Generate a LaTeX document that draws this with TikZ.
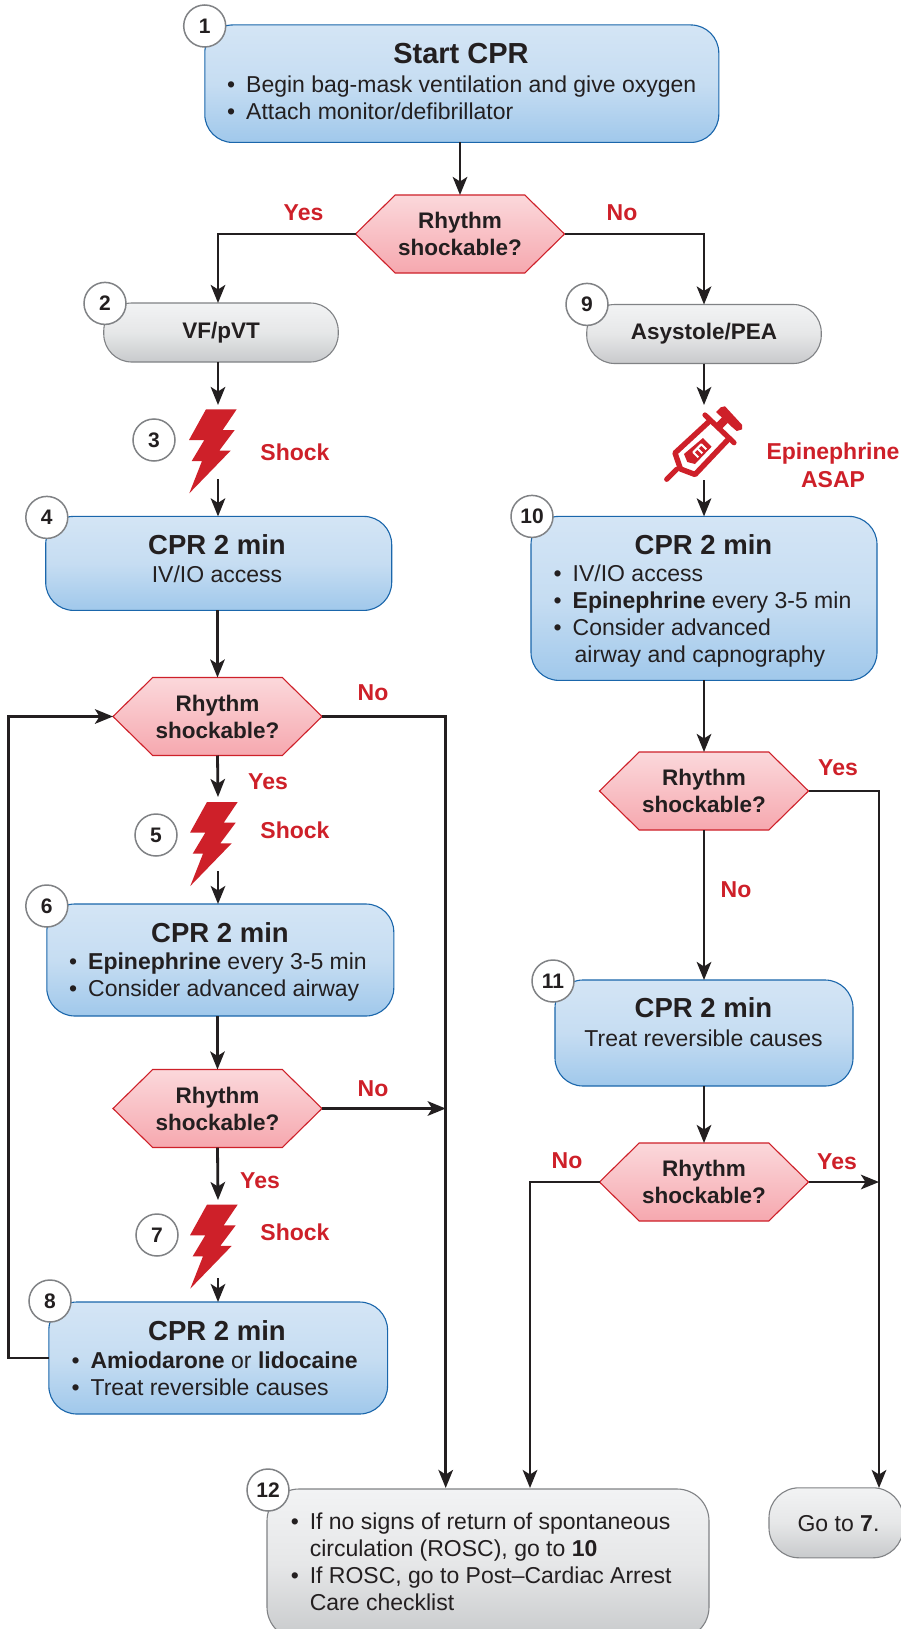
\documentclass[tikz,border=0pt]{standalone}
\usepackage{fontspec}
\setmainfont{Liberation Sans}
\usetikzlibrary{arrows.meta,shapes.symbols}
\definecolor{ink}{HTML}{231F20}
\definecolor{redc}{HTML}{CE2029}
\definecolor{bluel}{HTML}{1A66AB}
\definecolor{greyl}{HTML}{808285}
\tikzset{
  x=1pt,y=-1pt,
  box/.style={draw,line width=1.1pt,inner sep=0pt,outer sep=0pt,rounded corners=28pt},
  bluebox/.style={box,draw=bluel,top color=blueA,bottom color=blueC,middle color=blueB},
  greybox/.style={box,draw=greyl,top color=greyA,bottom color=greyC,middle color=greyB,text=ink,font=\fontsize{22.5}{27}\selectfont\bfseries},
  hexa/.style={signal,signal to=east and west,signal pointer angle=89,draw=redc,line width=1.1pt,
    top color=pinkA,bottom color=pinkC,inner sep=0pt,outer sep=0pt,minimum width=209pt,minimum height=78pt,
    align=center,text=ink,font=\fontsize{22.5}{27}\selectfont\bfseries},
  numc/.style={circle,draw=greyl,line width=1.5pt,fill=white,minimum size=42pt,inner sep=0pt,outer sep=0pt,text=ink,font=\fontsize{21}{24}\selectfont\bfseries},
  titl/.style={inner sep=0pt,text=ink,font=\fontsize{29}{32}\selectfont\bfseries},
  cprt/.style={inner sep=0pt,text=ink,font=\fontsize{27.5}{32}\selectfont\bfseries},
  body/.style={inner sep=0pt,align=left,text=ink,font=\fontsize{23}{27}\selectfont},
  lab/.style={inner sep=0pt,align=center,text=redc,font=\fontsize{23}{28}\selectfont\bfseries},
  conn/.style={draw=ink,line width=2.8pt,-{Stealth[length=18pt,width=14.5pt,inset=4.5pt]}},
  bolt/.style={fill=redc,draw=none},
}
\definecolor{blueA}{HTML}{D4E5F5}
\definecolor{blueB}{HTML}{C6DDF2}
\definecolor{blueC}{HTML}{A0C8EB}
\definecolor{greyA}{HTML}{F2F3F4}
\definecolor{greyB}{HTML}{E6E7E8}
\definecolor{greyC}{HTML}{C8CACC}
\definecolor{pinkA}{HTML}{FBD8DB}
\definecolor{pinkC}{HTML}{F6A8AF}
\newcommand{\bul}{\makebox[19pt][l]{•}}
\newcommand{\boltshape}[2]{\fill[bolt] (#1,#2) -- ++(30.7,0) -- ++(-14,20.7) -- ++(12,0) -- ++(-15.4,20.6) -- ++(11.4,0) -- ++(-41.4,42.7) -- ++(12.7,-32.3) -- ++(-10.3,0) -- ++(12.6,-21) -- ++(-15.3,0) -- cycle;}
\begin{document}
\begin{tikzpicture}
\useasboundingbox (0,0) rectangle (901,1629);
\fill[white] (0,0) rectangle (901,1629);
\begin{scope}
\clip (0,0) rectangle (901,1629);
% boxes
\node[bluebox,minimum width=514pt,minimum height=117.5pt] (b1) at (461.8,83.7) {};
\node[hexa] (h1) at (460,234) {\raisebox{-1pt}{Rhythm}\\\raisebox{-1pt}{shockable?}};
\node[greybox,minimum width=234.5pt,minimum height=59pt] (b2) at (221,332.5) {\raisebox{-2pt}{VF/pVT}\hspace{5pt}};
\node[greybox,minimum width=234.5pt,minimum height=59pt] (b9) at (704,334) {\raisebox{-2pt}{Asystole/PEA}\hspace{2pt}};
\node[bluebox,minimum width=346pt,minimum height=94pt] (b4) at (218.7,563.4) {};
\node[bluebox,minimum width=346pt,minimum height=164pt] (b10) at (704,598.4) {};
\node[hexa] (h2) at (217.5,716.5) {Rhythm\\shockable?};
\node[bluebox,minimum width=347pt,minimum height=112pt] (b6) at (220.3,960) {};
\node[hexa] (h3) at (217.5,1108.5) {Rhythm\\shockable?};
\node[bluebox,minimum width=338.7pt,minimum height=112pt] (b8) at (218.2,1358) {};
\node[hexa] (h4) at (704,791) {Rhythm\\shockable?};
\node[bluebox,minimum width=298pt,minimum height=106pt] (b11) at (704,1033) {};
\node[hexa] (h5) at (704,1182) {Rhythm\\shockable?};
\node[box,draw=greyl,top color=greyA,bottom color=greyC,middle color=greyB,rounded corners=32pt,minimum width=442pt,minimum height=150pt] (b12) at (488,1564) {};
\node[box,draw=greyl,top color=greyA,bottom color=greyC,middle color=greyB,rounded corners=30pt,minimum width=134pt,minimum height=70pt] (b13) at (836,1522.8) {};
% texts
\node[titl] (t1) at (461,54) {Start CPR};
\node[body,anchor=west] (x1) at (227,97.5) {\bul Begin bag-mask ventilation and give oxygen\\\bul Attach monitor/defibrillator};
\node[cprt] (t4) at (217,544.5) {CPR 2 min};
\node[body] (x4) at (217,574.5) {IV/IO access};
\node[cprt] (t10) at (703.5,544.5) {CPR 2 min};
\node[body,anchor=west] (x10) at (553.5,616) {\bul IV/IO access\\\bul\textbf{Epinephrine} every 3-5 min\\\bul Consider advanced\\\hspace{21pt}airway and capnography};
\node[cprt] (t6) at (220,932.5) {CPR 2 min};
\node[body,anchor=west] (x6) at (69,977.5) {\bul\textbf{Epinephrine} every 3-5 min\\\bul Consider advanced airway};
\node[cprt] (t8) at (217,1331) {CPR 2 min};
\node[body,anchor=west] (x8) at (71.4,1374) {\bul\textbf{Amiodarone} or \textbf{lidocaine}\\\bul Treat reversible causes};
\node[cprt] (t11) at (703.5,1008) {CPR 2 min};
\node[body] (x11) at (703.5,1038.5) {Treat reversible causes};
\node[body,anchor=west] (x12) at (290.6,1561.5) {\bul If no signs of return of spontaneous\\\hspace{19pt}circulation (ROSC), go to \textbf{10}\\\bul If ROSC, go to Post–Cardiac Arrest\\\hspace{19pt}Care checklist};
\node[body] (x13) at (838.5,1524) {Go to \textbf{7}.};
% bolts and syringe
\boltshape{206}{409.3}
\boltshape{207}{802}
\boltshape{207}{1204.6}
\coordinate (s3a) at (218,405);
\coordinate (s3b) at (218,479);
\coordinate (s5a) at (218,797);
\coordinate (s5b) at (218,871);
\coordinate (s7a) at (218,1200);
\coordinate (s7b) at (218,1278);
\coordinate (sya) at (704,405);
\coordinate (syb) at (704,480);
% syringe
\begin{scope}[line cap=round,line join=round]
\draw[redc,line width=5.2pt] (666.7,479.3) -- (676.7,469.3);
\draw[redc,line width=5.2pt] (705,415) -- (734,442.7);
\draw[redc,line width=5.4pt] (710,420.7) -- (675,453) -- (680.5,469) -- (695,474.5) -- (728.3,439.3);
\fill[redc] (716,412) -- (720.7,407.3) -- (725,406.3) -- (742.2,425) -- (742.2,429.3) -- (736.7,431) -- (732,427) -- cycle;
\draw[redc,line width=8pt,line cap=butt] (725,420) -- (717,428);
\fill[redc] (684,454) -- (703,438) -- (711.5,446.7) -- (695,464) -- (687.3,462) -- cycle;
\draw[white,line width=2pt,line cap=butt] (698.3,457.3) -- (693.3,452.3) -- (701.3,444.3) -- (706.3,449.3) (697.3,448.3) -- (702.3,453.3);
\end{scope}
% numbers
\node[numc] (n1) at (204.7,26) {1};
\node[numc] (n2) at (105,303.4) {2};
\node[numc] (n3) at (154,440) {3};
\node[numc] (n4) at (46.8,517.4) {4};
\node[numc] (n5) at (156,835) {5};
\node[numc] (n6) at (46.8,906) {6};
\node[numc] (n7) at (157,1235) {7};
\node[numc] (n8) at (50,1301) {8};
\node[numc] (n9) at (587,304.4) {9};
\node[numc] (n10) at (532,516.4) {10};
\node[numc] (n11) at (553,981) {11};
\node[numc] (n12) at (268,1490) {12};
% labels
\node[lab] (l1) at (303.5,213) {Yes};
\node[lab] (l2) at (622,213) {No};
\node[lab] (l3) at (295,452) {Shock};
\node[lab] (l4) at (833,465.5) {Epinephrine\\ASAP};
\node[lab] (l5) at (373,692.5) {No};
\node[lab] (l6) at (268,782) {Yes};
\node[lab] (l7) at (295,830) {Shock};
\node[lab] (l8) at (373,1089) {No};
\node[lab] (l9) at (260,1181) {Yes};
\node[lab] (l10) at (295,1232) {Shock};
\node[lab] (l11) at (838,768) {Yes};
\node[lab] (l12) at (736,890) {No};
\node[lab] (l13) at (567,1161) {No};
\node[lab] (l14) at (837,1162) {Yes};
% junction coordinates
\coordinate (jL) at (445.7,1488);
\coordinate (jT) at (445.7,1108.5);
\coordinate (jM) at (530,1488);
\coordinate (jR) at (879,1488);
\coordinate (jY) at (879,1182);
% connectors
\draw[conn] (b1.south -| h1) -- (h1.north);
\draw[conn] (h1.west) -| (b2.north -| 218,0);
\draw[conn] (h1.east) -| (b9.north);
\draw[conn] (b2.south -| 218,0) -- (s3a);
\draw[conn] (s3b) -- (b4.north -| 218,0);
\draw[conn] (b9.south) -- (sya);
\draw[conn] (syb) -- (b10.north);
\draw[conn] (b4.south -| h2) -- (h2.north);
\draw[conn] (h2.south) -- (s5a);
\draw[conn] (s5b) -- (b6.north -| 218,0);
\draw[conn] (b6.south -| h3) -- (h3.north);
\draw[conn] (h3.south) -- (s7a);
\draw[conn] (s7b) -- (b8.north -| 218,0);
\draw[conn] (b8.west |- 0,1358) -- (8.3,1358) |- (h2.west);
\draw[conn] (h2.east) -| (jL);
\draw[conn] (h3.east) -- (jT);
\draw[conn] (b10.south) -- (h4.north);
\draw[conn] (h4.south) -- (b11.north);
\draw[conn] (b11.south) -- (h5.north);
\draw[conn] (h4.east) -| (jR);
\draw[conn] (h5.east) -- (jY);
\draw[conn] (h5.west) -| (jM);
\end{scope}
\end{tikzpicture}
\end{document}
